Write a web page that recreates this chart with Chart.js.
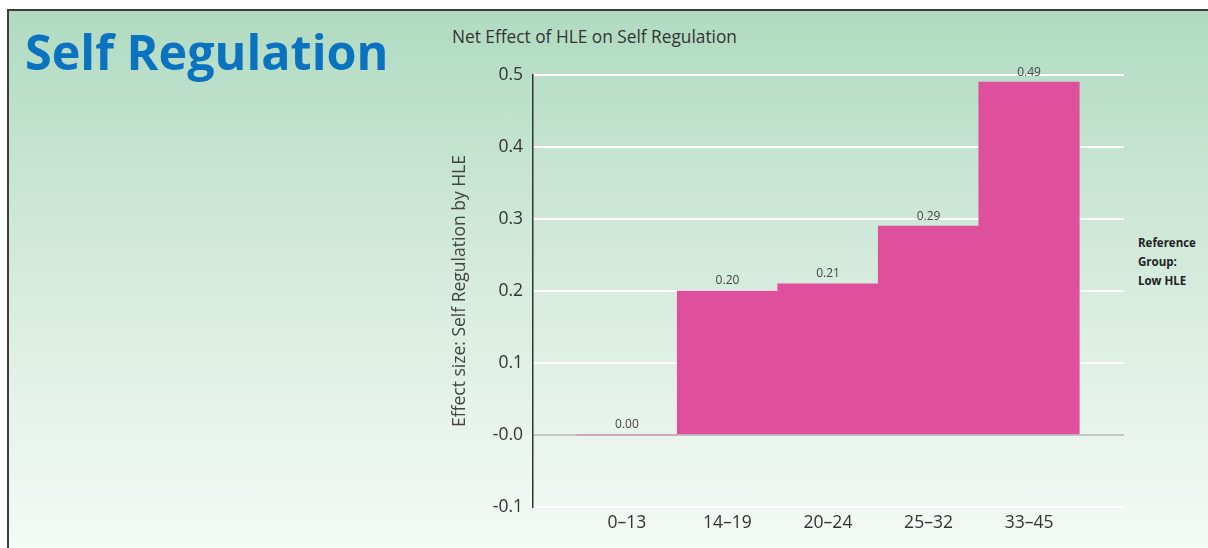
<!DOCTYPE html>
<html>
<head>
<meta charset="utf-8">
<script src="https://cdn.jsdelivr.net/npm/chart.js@4.4.1/dist/chart.umd.min.js"></script>
<style>
  html, body { margin: 0; padding: 0; width: 1208px; height: 548px; overflow: hidden; background: #ffffff; }
  #panel {
    position: absolute; left: 7px; top: 9px; width: 1201px; height: 539px;
    border-left: 2px solid #3c3c3c; border-top: 2px solid #3c3c3c;
    background: linear-gradient(to bottom, #b0dbc1 0%, #cfe8d8 40%, #e6f3ea 75%, #f4faf6 100%);
  }
  #bigTitle {
    position: absolute; left: 25px; top: 21px; margin: 0;
    font-family: "Open Sans", sans-serif; font-weight: 700; font-size: 48.5px; line-height: 60px;
    color: #0a72bf; white-space: nowrap;
  }
  #subTitle {
    position: absolute; left: 452px; top: 26px; margin: 0;
    font-family: "Open Sans", sans-serif; font-weight: 400; font-size: 17.3px; line-height: 22px;
    color: #333333; white-space: nowrap;
  }
  #refNote {
    position: absolute; left: 1138px; top: 233px;
    font-family: "Open Sans", sans-serif; font-weight: 700; font-size: 11.5px; line-height: 19px;
    color: #222222;
  }
  #chartWrap { position: absolute; left: 0; top: 0; width: 1208px; height: 548px; }
</style>
</head>
<body>
<div id="panel"></div>
<div id="bigTitle">Self Regulation</div>
<div id="subTitle">Net Effect of HLE on Self Regulation</div>
<div id="refNote">Reference<br>Group:<br>Low HLE</div>
<div id="chartWrap"><canvas id="c" width="1208" height="548"></canvas></div>
<script>
const categories = ['0–13', '14–19', '20–24', '25–32', '33–45'];
const effectValues = [0.00, 0.20, 0.21, 0.29, 0.49];
const yTickValues = [-0.1, 0.0, 0.1, 0.2, 0.3, 0.4, 0.5];
const yTickLabels = ['-0.1', '-0.0', '0.1', '0.2', '0.3', '0.4', '0.5'];
const yAxisTitle = 'Effect size: Self Regulation by HLE';

const valueLabels = {
  id: 'valueLabels',
  afterDatasetsDraw(chart) {
    const ctx = chart.ctx;
    const meta = chart.getDatasetMeta(0);
    ctx.save();
    ctx.font = '12px "Open Sans", sans-serif';
    ctx.fillStyle = '#444444';
    ctx.textAlign = 'center';
    ctx.textBaseline = 'bottom';
    meta.data.forEach((el, i) => {
      ctx.fillText(effectValues[i].toFixed(2), el.x, el.y - 4);
    });
    ctx.restore();
  }
};

new Chart(document.getElementById('c'), {
  type: 'bar',
  data: {
    datasets: [{
      data: categories.map((c, i) => ({ x: i, y: effectValues[i] })),
      backgroundColor: '#de509b',
      borderWidth: 0,
      barPercentage: 1,
      categoryPercentage: 1
    }]
  },
  options: {
    responsive: false,
    animation: false,
    devicePixelRatio: 1,
    layout: { padding: { left: 440, right: 84, top: 75, bottom: 0 } },
    plugins: { legend: { display: false }, tooltip: { enabled: false }, title: { display: false } },
    scales: {
      x: {
        type: 'linear',
        offset: false,
        min: -0.935,
        max: 4.945,
        afterBuildTicks(scale) { scale.ticks = categories.map((c, i) => ({ value: i })); },
        afterFit(scale) { scale.height = 41; },
        grid: { display: false, drawTicks: false, offset: false },
        border: { display: false },
        ticks: {
          autoSkip: false,
          maxRotation: 0,
          padding: 6,
          color: '#333333',
          font: { family: '"Open Sans", sans-serif', size: 17.5 },
          callback: (v) => categories[v]
        }
      },
      y: {
        min: -0.1,
        max: 0.5,
        afterBuildTicks(scale) { scale.ticks = yTickValues.map(v => ({ value: v })); },
        afterFit(scale) { scale.width = 93; },
        grid: {
          drawTicks: false,
          lineWidth: 2,
          color: (ctx) => (ctx.tick && Math.abs(ctx.tick.value) < 1e-9) ? '#c4c4c4' : '#ffffff'
        },
        border: { display: true, color: '#333333', width: 1.5 },
        ticks: {
          padding: 10,
          color: '#333333',
          font: { family: '"Open Sans", sans-serif', size: 17.5 },
          callback: (v) => {
            const idx = yTickValues.findIndex(t => Math.abs(t - v) < 1e-9);
            return idx >= 0 ? yTickLabels[idx] : '';
          }
        },
        title: {
          display: true,
          text: yAxisTitle,
          color: '#444444',
          padding: { top: 10, bottom: 0 },
          font: { family: '"Open Sans", sans-serif', size: 17.5 }
        }
      }
    }
  },
  plugins: [valueLabels]
});
</script>
</body>
</html>
